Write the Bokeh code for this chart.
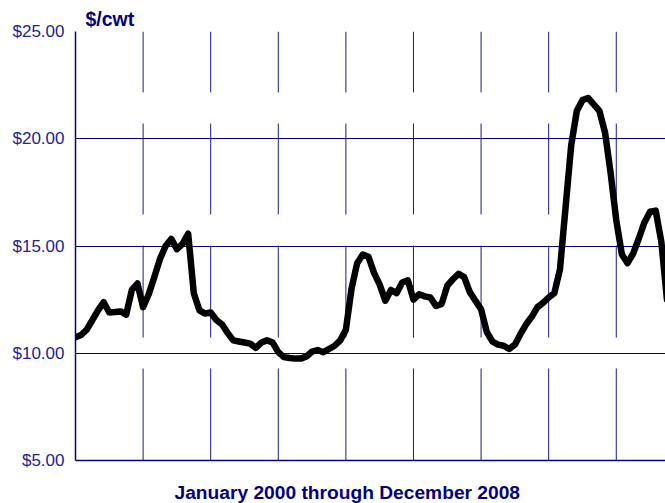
from bokeh.plotting import figure
from bokeh.models import Range1d, FixedTicker, NumeralTickFormatter, Title
from bokeh.embed import file_html
from bokeh.resources import INLINE

# Monthly price, $/cwt, starting January 2000 (month index 0)
prices = [
    10.75, 10.85, 11.10, 11.55, 12.00, 12.38, 11.90, 11.92, 11.95, 11.80, 12.95, 13.25,   # 2000
    12.15, 12.75, 13.55, 14.40, 15.00, 15.33, 14.85, 15.10, 15.57, 12.80, 12.00, 11.85,   # 2001
    11.90, 11.55, 11.35, 10.95, 10.60, 10.55, 10.50, 10.45, 10.25, 10.50, 10.60, 10.50,   # 2002
    10.05, 9.82, 9.78, 9.75, 9.75, 9.85, 10.08, 10.15, 10.05, 10.20, 10.35, 10.60,        # 2003
    11.10, 13.00, 14.20, 14.60, 14.50, 13.75, 13.20, 12.45, 12.95, 12.80, 13.30, 13.40,   # 2004
    12.50, 12.75, 12.65, 12.60, 12.20, 12.30, 13.15, 13.45, 13.70, 13.55, 12.85, 12.45,   # 2005
    12.05, 11.00, 10.55, 10.40, 10.35, 10.20, 10.40, 10.90, 11.35, 11.70, 12.15, 12.35,   # 2006
    12.60, 12.80, 13.90, 16.80, 19.70, 21.30, 21.80, 21.90, 21.60, 21.30, 20.30, 18.40,   # 2007
    16.20, 14.60, 14.20, 14.65, 15.35, 16.10, 16.60, 16.65, 15.20, 12.50,                 # 2008 (visible part)
]
months = list(range(len(prices)))

years = ["2000", "2001", "2002", "2003", "2004", "2005", "2006", "2007", "2008"]
y_ticks = [5, 10, 15, 20, 25]
# pieces of the vertical year lines that are drawn (gaps between them)
vgrid_pieces = [(5.0, 9.29), (10.73, 15.02), (16.47, 20.71), (22.16, 25.0)]

NAVY = "#000080"
TICK_BLUE = "#22229a"

p = figure(width=665, height=503, output_backend="svg", toolbar_location=None,
           x_range=Range1d(0, 104.74), y_range=Range1d(5, 25),
           min_border_left=75, min_border_right=0, min_border_top=31, min_border_bottom=43)
p.outline_line_color = None
p.background_fill_color = "white"

# axes
p.yaxis.ticker = FixedTicker(ticks=y_ticks)
p.yaxis.formatter = NumeralTickFormatter(format="$0.00")
p.yaxis.major_label_text_font = "Liberation Sans"
p.yaxis.major_label_text_font_size = "17px"
p.yaxis.major_label_text_color = TICK_BLUE
p.yaxis.major_tick_line_color = None
p.yaxis.major_tick_out = 0
p.yaxis.major_tick_in = 0
p.yaxis.minor_tick_line_color = None
p.yaxis.major_label_standoff = 11
p.yaxis.axis_line_color = NAVY
p.yaxis.axis_line_width = 1.5

# x axis: one invisible tick at the right edge gives the axis panel depth (caption spacing)
p.xaxis.ticker = FixedTicker(ticks=[104.7])
p.xaxis.major_label_overrides = {104.7: ""}
p.xaxis.major_label_standoff = 0
p.xaxis.major_tick_line_color = "white"
p.xaxis.major_tick_line_width = 0.5
p.xaxis.major_tick_out = 18
p.xaxis.major_tick_in = 0
p.xaxis.minor_tick_line_color = None
p.xaxis.axis_line_color = NAVY
p.xaxis.axis_line_width = 1.5

# grids
p.xgrid.grid_line_color = None
p.ygrid.ticker = FixedTicker(ticks=y_ticks)
p.ygrid.grid_line_color = NAVY
p.ygrid.grid_line_width = 1

x0, y0, x1, y1 = [], [], [], []
for k in range(1, len(years)):
    xm = 12 * k
    for lo, hi in vgrid_pieces:
        x0.append(xm); x1.append(xm); y0.append(lo); y1.append(hi)
p.segment(x0=x0, y0=y0, x1=x1, y1=y1, line_color=NAVY, line_width=1, line_alpha=0.9)

# data line
p.line(months, prices, line_color="black", line_width=6.5, line_join="round", line_cap="round")

# texts
p.add_layout(Title(text="$/cwt", align="left", offset=10, standoff=4,
                   text_font="Liberation Sans", text_font_style="bold",
                   text_font_size="19.5px", text_color=NAVY), "above")
p.add_layout(Title(text="January 2000 through December 2008", align="left", offset=99,
                   standoff=2, text_font="Liberation Sans", text_font_style="bold",
                   text_font_size="19.2px", text_color=NAVY), "below")

open("out.html", "w").write(file_html(p, INLINE))
